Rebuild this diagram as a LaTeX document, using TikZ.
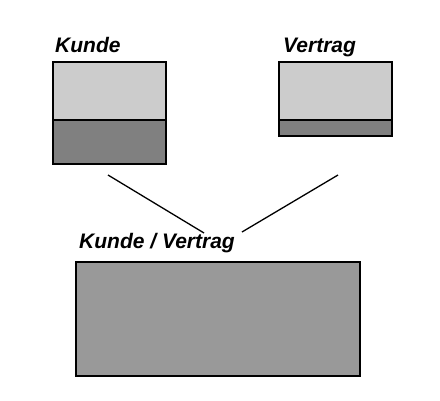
\documentclass[tikz,border=0pt]{standalone}
\usepackage{fontspec}
\setmainfont{Liberation Sans}
\definecolor{lightg}{HTML}{CCCCCC}
\definecolor{darkg}{HTML}{808080}
\definecolor{midg}{HTML}{999999}
\begin{document}
\begin{tikzpicture}[x=1pt,y=-1pt,
  part/.style={draw=black,line width=2pt,rectangle,anchor=north west,inner sep=0pt},
  lbl/.style={font=\fontsize{21}{24}\selectfont\bfseries\itshape,anchor=base west,inner sep=0pt},
  conn/.style={draw=black,line width=1.3pt}]
\useasboundingbox (0,0) rectangle (440,400);
% Kunde
\node[part,fill=lightg,minimum width=113pt,minimum height=58pt] (k1) at (52,61) {};
\node[part,fill=darkg,minimum width=113pt,minimum height=44pt] (k2) at (52,119) {};
\node[lbl] (kl) at (55,52) {Kunde};
% Vertrag
\node[part,fill=lightg,minimum width=113pt,minimum height=58pt] (v1) at (278,61) {};
\node[part,fill=darkg,minimum width=113pt,minimum height=16pt] (v2) at (278,119) {};
\node[lbl] (vl) at (283,52) {Vertrag};
% Kunde / Vertrag
\node[lbl] (kvl) at (79,248) {Kunde / Vertrag};
\node[part,fill=midg,minimum width=284pt,minimum height=114pt] (kv) at (75,261) {};
% connectors
\coordinate (a1) at (108,175);
\coordinate (a2) at (204,233);
\coordinate (b1) at (338,175);
\coordinate (b2) at (242,232);
\draw[conn] (a1) -- (a2);
\draw[conn] (b1) -- (b2);
\end{tikzpicture}
\end{document}
